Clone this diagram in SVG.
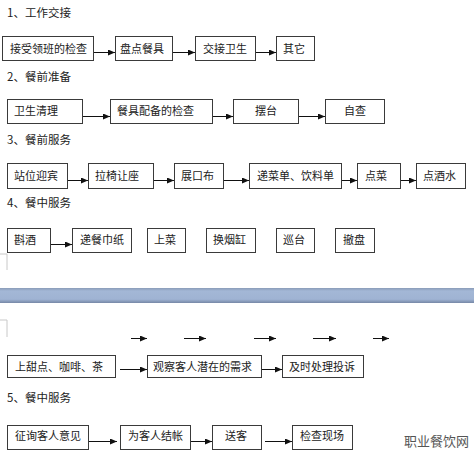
<svg xmlns="http://www.w3.org/2000/svg" width="474" height="457" viewBox="0 0 474 457">
<style>
text{font-family:"Noto Sans CJK SC","Noto Sans CJK TC",sans-serif;font-size:11px;fill:#222}
.h{font-size:11.5px}
.box{fill:#fff;stroke:#3a3a3a;stroke-width:1}
.c{stroke:#111;stroke-width:1;fill:none;marker-end:url(#ah)}
.mark{stroke:#c8c8c8;stroke-width:1;fill:none}
.wm{font-size:13px;fill:#555}
</style>
<defs>
<marker id="ah" markerUnits="userSpaceOnUse" markerWidth="7" markerHeight="6" refX="7" refY="3" orient="auto">
<path d="M0,0 L7,3 L0,6 Z" fill="#111"/>
</marker>
<linearGradient id="band" x1="0" y1="0" x2="0" y2="1">
<stop offset="0" stop-color="#8a9cb8"/>
<stop offset="0.2" stop-color="#a3b7d6"/>
<stop offset="0.75" stop-color="#9fb3d3"/>
<stop offset="1" stop-color="#7688a6"/>
</linearGradient>
</defs>
<rect width="474" height="457" fill="#fff"/>

<!-- headings -->
<text class="h" x="7" y="17">1、工作交接</text>
<text class="h" x="7" y="81">2、餐前准备</text>
<text class="h" x="7" y="144">3、餐前服务</text>
<text class="h" x="7" y="207">4、餐中服务</text>
<text class="h" x="7" y="402">5、餐中服务</text>

<!-- page band and margin marks -->
<rect x="0" y="288" width="474" height="15" fill="url(#band)"/>
<path class="mark" d="M0,254 H7 V270"/>
<path class="mark" d="M0,320 H7 V337"/>

<!-- row 1 -->
<g id="n1a"><rect class="box" x="2.5" y="36.5" width="91" height="24"/><text x="10" y="53">接受领班的检查</text></g>
<g id="n1b"><rect class="box" x="115.5" y="36.5" width="57" height="24"/><text x="120" y="53">盘点餐具</text></g>
<g id="n1c"><rect class="box" x="195.5" y="36.5" width="60" height="24"/><text x="203" y="53">交接卫生</text></g>
<g id="n1d"><rect class="box" x="276.5" y="36.5" width="38" height="24"/><text x="283" y="53">其它</text></g>

<!-- row 2 -->
<g id="n2a"><rect class="box" x="7.5" y="99.5" width="75" height="24"/><text x="14" y="115">卫生清理</text></g>
<g id="n2b"><rect class="box" x="110.5" y="99.5" width="102" height="24"/><text x="117" y="115">餐具配备的检查</text></g>
<g id="n2c"><rect class="box" x="233.5" y="99.5" width="65" height="24"/><text x="255" y="115">摆台</text></g>
<g id="n2d"><rect class="box" x="325.5" y="99.5" width="59" height="24"/><text x="344" y="115">自查</text></g>

<!-- row 3 -->
<g id="n3a"><rect class="box" x="7.5" y="163.5" width="60" height="25"/><text x="14" y="180">站位迎宾</text></g>
<g id="n3b"><rect class="box" x="88.5" y="163.5" width="65" height="25"/><text x="95" y="180">拉椅让座</text></g>
<g id="n3c"><rect class="box" x="174.5" y="163.5" width="49" height="25"/><text x="181" y="180">展口布</text></g>
<g id="n3d"><rect class="box" x="249.5" y="163.5" width="92" height="25"/><text x="257" y="180">递菜单、饮料单</text></g>
<g id="n3e"><rect class="box" x="357.5" y="163.5" width="43" height="25"/><text x="365" y="180">点菜</text></g>
<g id="n3f"><rect class="box" x="416.5" y="163.5" width="49" height="25"/><text x="423" y="180">点酒水</text></g>

<!-- row 4 -->
<g id="n4a"><rect class="box" x="7.5" y="228.5" width="43" height="24"/><text x="14" y="244">斟酒</text></g>
<g id="n4b"><rect class="box" x="72.5" y="228.5" width="59" height="24"/><text x="80" y="244">递餐巾纸</text></g>
<g id="n4c"><rect class="box" x="147.5" y="228.5" width="38" height="24"/><text x="154" y="244">上菜</text></g>
<g id="n4d"><rect class="box" x="206.5" y="228.5" width="49" height="24"/><text x="213" y="244">换烟缸</text></g>
<g id="n4e"><rect class="box" x="276.5" y="228.5" width="38" height="24"/><text x="283" y="244">巡台</text></g>
<g id="n4f"><rect class="box" x="335.5" y="228.5" width="39" height="24"/><text x="343" y="244">撤盘</text></g>

<!-- row 5 -->
<g id="n5a"><rect class="box" x="7.5" y="355.5" width="108" height="22"/><text x="15" y="371">上甜点、咖啡、茶</text></g>
<g id="n5b"><rect class="box" x="147.5" y="355.5" width="114" height="22"/><text x="153" y="371">观察客人潜在的需求</text></g>
<g id="n5c"><rect class="box" x="282.5" y="355.5" width="81" height="22"/><text x="289" y="371">及时处理投诉</text></g>

<!-- row 6 -->
<g id="n6a"><rect class="box" x="7.5" y="425.5" width="81" height="24"/><text x="15" y="440">征询客人意见</text></g>
<g id="n6b"><rect class="box" x="120.5" y="425.5" width="70" height="24"/><text x="128" y="440">为客人结帐</text></g>
<g id="n6c"><rect class="box" x="212.5" y="425.5" width="49" height="24"/><text x="225" y="440">送客</text></g>
<g id="n6d"><rect class="box" x="292.5" y="425.5" width="60" height="24"/><text x="300" y="440">检查现场</text></g>

<g id="connectors">
<line class="c" x1="94" y1="52.5" x2="115" y2="52.5"/>
<line class="c" x1="173" y1="52.5" x2="195" y2="52.5"/>
<line class="c" x1="256" y1="52.5" x2="276" y2="52.5"/>

<line class="c" x1="83" y1="116.5" x2="110" y2="116.5"/>
<line class="c" x1="213" y1="116.5" x2="233" y2="116.5"/>
<line class="c" x1="299" y1="116.5" x2="325" y2="116.5"/>

<line class="c" x1="68" y1="180.5" x2="88" y2="180.5"/>
<line class="c" x1="154" y1="180.5" x2="174" y2="180.5"/>
<line class="c" x1="224" y1="180.5" x2="249" y2="180.5"/>
<line class="c" x1="342" y1="180.5" x2="357" y2="180.5"/>
<line class="c" x1="401" y1="180.5" x2="416" y2="180.5"/>

<line class="c" x1="51" y1="244.5" x2="72" y2="244.5"/>

<line class="c" x1="131" y1="338.5" x2="147" y2="338.5"/>
<line class="c" x1="184" y1="338.5" x2="206" y2="338.5"/>
<line class="c" x1="254" y1="338.5" x2="276" y2="338.5"/>
<line class="c" x1="313" y1="338.5" x2="336" y2="338.5"/>
<line class="c" x1="373" y1="338.5" x2="389" y2="338.5"/>

<line class="c" x1="120" y1="369.5" x2="147" y2="369.5"/>
<line class="c" x1="262" y1="369.5" x2="282" y2="369.5"/>

<line class="c" x1="89" y1="441.5" x2="117" y2="441.5"/>
<line class="c" x1="191" y1="441.5" x2="212" y2="441.5"/>
<line class="c" x1="265" y1="441.5" x2="292" y2="441.5"/>
</g>

<text class="wm" x="404" y="446">职业餐饮网</text>
</svg>
